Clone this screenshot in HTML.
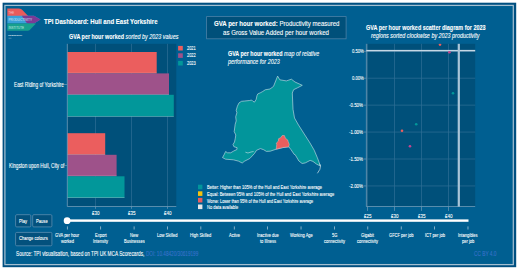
<!DOCTYPE html>
<html><head><meta charset="utf-8"><style>
html,body{margin:0;padding:0;background:#fff;width:520px;height:275px;overflow:hidden;position:relative}
.r{position:absolute}
.t{position:absolute;white-space:nowrap;font-family:"Liberation Sans",sans-serif;line-height:1;color:#fff;transform-origin:0 0;-webkit-text-stroke:0.1px currentColor}
svg{position:absolute;left:0;top:0}
</style></head><body>
<svg width="520" height="275" viewBox="0 0 520 275"><rect x="2.6" y="2.7" width="513.6" height="264.5" fill="#004f80"/>
<rect x="4.9" y="5.4" width="508.4" height="259.2" fill="#005f91" stroke="#a3bfd1" stroke-width="1.25"/>
<path d="M7.3 8.5 H18.6 C21.0 8.5 22.2 9.6 23.8 11.6 L28.4 16.2 H7.3 Z" fill="#ea5b5b"/>
<path d="M7.3 15.8 H34 L40.6 19.6 L34 23.6 H7.3 Z" fill="#3aa0d8"/>
<path d="M21.8 15.8 H34 L40.6 19.6 L34 23.6 H28.4 C27.2 23.6 26.4 22.8 25.6 21.6 Z" fill="#7b3a96"/>
<path d="M7.3 23.6 H36 L30.2 29.4 C29.2 30.4 28.4 30.8 27.0 30.8 H7.3 Z" fill="#17a08e"/>
<text x="8.6" y="13.6" font-size="4" fill="#f4c6c6" font-family="Liberation Sans" textLength="5.6" lengthAdjust="spacingAndGlyphs">THE</text>
<text x="8.5" y="21.3" font-size="3.8" fill="#d6e9f6" font-family="Liberation Sans" textLength="23.5" lengthAdjust="spacingAndGlyphs">PRODUCTIVITY</text>
<text x="8.5" y="28.8" font-size="3.8" fill="#c8ece4" font-family="Liberation Sans" textLength="15.5" lengthAdjust="spacingAndGlyphs">INSTITUTE</text>
<text x="8.3" y="35.8" font-size="1.9" fill="#ffffff" font-weight="bold" font-family="Liberation Sans" textLength="14" lengthAdjust="spacingAndGlyphs">PRODUCTIVITY</text>
<rect x="8.5" y="37.8" width="3" height="0.7" fill="#9fbcd2" opacity="0.6"/>
<rect x="206.60" y="16.60" width="139.50" height="22.20" fill="#00507a" stroke="#4a80a6" stroke-width="0.8"/>
<rect x="67.25" y="43.80" width="109.05" height="162.70" fill="#00507a"/>
<rect x="95.25" y="43.80" width="0.70" height="162.70" fill="#2f6f95"/>
<rect x="131.25" y="43.80" width="0.70" height="162.70" fill="#2f6f95"/>
<rect x="167.25" y="43.80" width="0.70" height="162.70" fill="#2f6f95"/>
<rect x="67.25" y="52.00" width="89.45" height="21.40" fill="#eb5e5e"/>
<rect x="67.25" y="72.80" width="89.45" height="0.60" fill="#e6dce6" opacity="0.5"/>
<rect x="67.25" y="73.40" width="101.75" height="21.40" fill="#9e528a"/>
<rect x="67.25" y="94.20" width="101.75" height="0.60" fill="#e6dce6" opacity="0.5"/>
<rect x="67.25" y="94.80" width="106.55" height="21.80" fill="#02979a"/>
<rect x="67.25" y="116.00" width="106.55" height="0.60" fill="#e6dce6" opacity="0.5"/>
<rect x="67.25" y="133.20" width="37.95" height="21.60" fill="#eb5e5e"/>
<rect x="67.25" y="154.20" width="37.95" height="0.60" fill="#e6dce6" opacity="0.5"/>
<rect x="67.25" y="154.80" width="49.35" height="21.50" fill="#9e528a"/>
<rect x="67.25" y="175.70" width="49.35" height="0.60" fill="#e6dce6" opacity="0.5"/>
<rect x="67.25" y="176.30" width="57.25" height="21.60" fill="#02979a"/>
<rect x="67.25" y="197.30" width="57.25" height="0.60" fill="#e6dce6" opacity="0.5"/>
<rect x="66.85" y="43.80" width="0.80" height="162.70" fill="#6f9bb8"/>
<rect x="67.25" y="206.10" width="109.05" height="0.80" fill="#6f9bb8"/>
<rect x="95.25" y="206.50" width="0.70" height="2.30" fill="#6f9bb8"/>
<rect x="131.25" y="206.50" width="0.70" height="2.30" fill="#6f9bb8"/>
<rect x="167.25" y="206.50" width="0.70" height="2.30" fill="#6f9bb8"/>
<rect x="64.20" y="84.00" width="3.00" height="0.70" fill="#6f9bb8"/>
<rect x="64.20" y="165.30" width="3.00" height="0.70" fill="#6f9bb8"/>
<rect x="178.10" y="45.90" width="4.70" height="4.60" fill="#eb5e5e"/>
<rect x="178.10" y="53.30" width="4.70" height="4.60" fill="#9e528a"/>
<rect x="178.10" y="60.90" width="4.70" height="4.60" fill="#02979a"/>
<rect x="366.30" y="43.80" width="108.90" height="162.80" fill="#00507a"/>
<rect x="366.30" y="50.85" width="108.90" height="0.70" fill="#2f6f95"/>
<rect x="363.60" y="50.85" width="2.70" height="0.70" fill="#6f9bb8"/>
<rect x="366.30" y="77.80" width="108.90" height="0.70" fill="#2f6f95"/>
<rect x="363.60" y="77.80" width="2.70" height="0.70" fill="#6f9bb8"/>
<rect x="366.30" y="104.75" width="108.90" height="0.70" fill="#2f6f95"/>
<rect x="363.60" y="104.75" width="2.70" height="0.70" fill="#6f9bb8"/>
<rect x="366.30" y="131.70" width="108.90" height="0.70" fill="#2f6f95"/>
<rect x="363.60" y="131.70" width="2.70" height="0.70" fill="#6f9bb8"/>
<rect x="366.30" y="158.65" width="108.90" height="0.70" fill="#2f6f95"/>
<rect x="363.60" y="158.65" width="2.70" height="0.70" fill="#6f9bb8"/>
<rect x="366.30" y="185.60" width="108.90" height="0.70" fill="#2f6f95"/>
<rect x="363.60" y="185.60" width="2.70" height="0.70" fill="#6f9bb8"/>
<rect x="367.15" y="43.80" width="0.70" height="162.80" fill="#2f6f95"/>
<rect x="367.15" y="206.60" width="0.70" height="4.30" fill="#6f9bb8"/>
<rect x="394.10" y="43.80" width="0.70" height="162.80" fill="#2f6f95"/>
<rect x="394.10" y="206.60" width="0.70" height="4.30" fill="#6f9bb8"/>
<rect x="421.05" y="43.80" width="0.70" height="162.80" fill="#2f6f95"/>
<rect x="421.05" y="206.60" width="0.70" height="4.30" fill="#6f9bb8"/>
<rect x="448.00" y="43.80" width="0.70" height="162.80" fill="#2f6f95"/>
<rect x="448.00" y="206.60" width="0.70" height="4.30" fill="#6f9bb8"/>
<rect x="365.90" y="43.80" width="0.80" height="162.80" fill="#6f9bb8"/>
<rect x="366.30" y="206.20" width="108.90" height="0.80" fill="#6f9bb8"/>
<rect x="366.30" y="49.90" width="108.90" height="1.50" fill="#c5d8e5"/>
<rect x="457.70" y="43.80" width="2.20" height="162.80" fill="#a9c5d7"/>
<clipPath id="sc"><rect x="366.3" y="43.8" width="108.89999999999998" height="162.8"/></clipPath>
<circle cx="440" cy="44.6" r="1.3" fill="#eb5e5e" clip-path="url(#sc)"/>
<circle cx="449.4" cy="52.2" r="1.3" fill="#c2458f" clip-path="url(#sc)"/>
<circle cx="453" cy="93.3" r="1.3" fill="#02979a" clip-path="url(#sc)"/>
<circle cx="416.2" cy="124.3" r="1.3" fill="#02979a" clip-path="url(#sc)"/>
<circle cx="402" cy="130.7" r="1.3" fill="#eb5e5e" clip-path="url(#sc)"/>
<circle cx="410" cy="146.2" r="1.3" fill="#c2458f" clip-path="url(#sc)"/>
<path d="M277.6 76.1 L279.8 79.8 L286.4 80.9 L291.4 79.2 L295.0 82.0 L302.3 85.3 L297.3 87.9 L293.6 89.7 L292.3 93.0 L293.0 109.3 L294.5 118.0 L298.5 125.0 L310.0 143.0 L314.2 150.2 L317.4 157.8 L319.5 163.5 L320.5 166.1 L316.7 164.2 L312.9 161.4 L310.1 160.4 L305.3 162.9 L302.1 163.5 L298.9 161.0 L295.1 154.6 L294.2 154.4 L290.9 149.5 L288.8 146.8 L282.8 147.6 L276.2 149.2 L270.2 151.2 L266.4 151.4 L263.6 149.7 L260.4 148.6 L256.5 150.3 L254.4 153.6 L249.8 158.5 L244.7 161.1 L242.2 163.0 L238.4 161.1 L233.3 159.8 L225.6 159.2 L222.5 157.6 L224.4 154.1 L225.6 151.5 L227.5 152.8 L230.7 152.8 L233.9 150.9 L236.8 149.6 L237.1 147.7 L233.9 146.7 L233.0 144.5 L234.5 142.0 L235.2 138.8 L235.8 135.0 L234.2 131.6 L235.2 124.2 L236.2 120.9 L235.7 116.8 L236.9 112.7 L236.2 110.3 L237.4 106.2 L239.0 102.9 L241.5 101.3 L244.7 101.0 L249.6 100.5 L251.6 100.0 L252.9 101.3 L254.5 102.1 L256.2 99.3 L257.0 95.5 L257.8 93.9 L260.3 92.8 L262.7 91.5 L265.2 89.8 L270.0 89.0 L273.5 86.4 Z" fill="#02959b" stroke="#cfe3ea" stroke-width="0.6" stroke-linejoin="round"/>
<path d="M276.2 149.2 L276.7 144.3 L276.2 143.2 L278.4 141.0 L278.4 138.8 L280.6 137.7 L282.2 135.5 L284.4 135.5 L285.5 138.3 L287.7 139.9 L288.2 141.5 L289.3 144.3 L288.8 146.8 L282.8 147.6 Z" fill="#eb5e5e" stroke="#f3c9c9" stroke-width="0.4"/>
<path d="M319.5 163.5 L320.5 166.1 L319.9 169.3 L317.4 173.3" fill="none" stroke="#cfe3ea" stroke-width="0.7"/>
<path d="M245.4 152.2 L248 153 L251 152 L253.6 151.5" fill="none" stroke="#cfe3ea" stroke-width="0.6"/>
<rect x="198.00" y="184.70" width="4.40" height="4.60" fill="#02959b"/>
<rect x="198.00" y="191.30" width="4.40" height="4.60" fill="#f4c20d"/>
<rect x="198.00" y="197.90" width="4.40" height="4.60" fill="#eb5e5e"/>
<rect x="198.00" y="204.50" width="4.40" height="4.60" fill="#e8e8e8"/>
<rect x="67.10" y="219.40" width="401.40" height="2.40" fill="#ffffff"/>
<circle cx="67.1" cy="220.65" r="3.4" fill="#ffffff"/>
<rect x="66.95" y="226.40" width="0.70" height="3.10" fill="#b9d0de"/>
<rect x="100.34" y="226.40" width="0.70" height="3.10" fill="#b9d0de"/>
<rect x="133.73" y="226.40" width="0.70" height="3.10" fill="#b9d0de"/>
<rect x="167.12" y="226.40" width="0.70" height="3.10" fill="#b9d0de"/>
<rect x="200.51" y="226.40" width="0.70" height="3.10" fill="#b9d0de"/>
<rect x="233.90" y="226.40" width="0.70" height="3.10" fill="#b9d0de"/>
<rect x="267.29" y="226.40" width="0.70" height="3.10" fill="#b9d0de"/>
<rect x="300.68" y="226.40" width="0.70" height="3.10" fill="#b9d0de"/>
<rect x="334.07" y="226.40" width="0.70" height="3.10" fill="#b9d0de"/>
<rect x="367.46" y="226.40" width="0.70" height="3.10" fill="#b9d0de"/>
<rect x="400.85" y="226.40" width="0.70" height="3.10" fill="#b9d0de"/>
<rect x="434.24" y="226.40" width="0.70" height="3.10" fill="#b9d0de"/>
<rect x="467.63" y="226.40" width="0.70" height="3.10" fill="#b9d0de"/>
<rect x="15.60" y="214.70" width="15.20" height="12.20" fill="#03517d" stroke="#5a8db0" stroke-width="0.8" rx="1.1"/>
<rect x="32.70" y="214.70" width="19.20" height="12.20" fill="#03517d" stroke="#5a8db0" stroke-width="0.8" rx="1.1"/>
<rect x="15.60" y="232.40" width="36.30" height="13.40" fill="#03517d" stroke="#5a8db0" stroke-width="0.8" rx="1.1"/></svg>
<div class="t" style="left:44.20px;top:18.11px;font-size:7.31px;transform:scaleX(0.8273);"><b>TPI Dashboard: Hull and East Yorkshire</b></div>
<div class="t" style="left:213.50px;top:20.22px;font-size:7.42px;transform:scaleX(0.8196);"><b>GVA per hour worked:</b> Productivity measured</div>
<div class="t" style="left:223.00px;top:29.22px;font-size:7.42px;transform:scaleX(0.8234);">as Gross Value Added per hour worked</div>
<div class="t" style="left:68.70px;top:34.15px;font-size:6.68px;transform:scaleX(0.8100);"><b>GVA per hour worked</b> <i>sorted by 2023 values</i></div>
<div class="t" style="left:187.30px;top:45.88px;font-size:5.94px;transform:scaleX(0.6597);">2021</div>
<div class="t" style="left:187.30px;top:53.08px;font-size:5.94px;transform:scaleX(0.6597);">2022</div>
<div class="t" style="left:187.30px;top:60.58px;font-size:5.94px;transform:scaleX(0.6597);">2023</div>
<div class="t" style="left:14.20px;top:81.52px;font-size:6.36px;transform:scaleX(0.7404);">East Riding of Yorkshire</div>
<div class="t" style="left:8.80px;top:162.92px;font-size:6.36px;transform:scaleX(0.7391);">Kingston upon Hull, City of</div>
<div class="t" style="left:91.80px;top:210.49px;font-size:6.04px;transform:scaleX(0.7541);">£30</div>
<div class="t" style="left:127.80px;top:210.49px;font-size:6.04px;transform:scaleX(0.7541);">£35</div>
<div class="t" style="left:163.80px;top:210.49px;font-size:6.04px;transform:scaleX(0.7541);">£40</div>
<div class="t" style="left:228.00px;top:50.55px;font-size:6.68px;transform:scaleX(0.8039);"><b>GVA per hour worked</b> <i>map of relative</i></div>
<div class="t" style="left:228.00px;top:58.95px;font-size:6.68px;transform:scaleX(0.8106);"><i>performance for 2023</i></div>
<div class="t" style="left:206.80px;top:185.25px;font-size:5.72px;transform:scaleX(0.7051);">Better: Higher than 105% of the Hull and East Yorkshire average</div>
<div class="t" style="left:206.80px;top:191.88px;font-size:5.72px;transform:scaleX(0.7094);">Equal: Between 95% and 105% of the Hull and East Yorkshire average</div>
<div class="t" style="left:206.80px;top:198.51px;font-size:5.72px;transform:scaleX(0.6646);">Worse: Lower than 95% of the Hull and East Yorkshire average</div>
<div class="t" style="left:206.80px;top:205.14px;font-size:5.72px;transform:scaleX(0.7058);">No data available</div>
<div class="t" style="left:365.80px;top:24.65px;font-size:6.68px;transform:scaleX(0.8137);"><b>GVA per hour worked scatter diagram for 2023</b></div>
<div class="t" style="left:370.80px;top:32.95px;font-size:6.68px;transform:scaleX(0.8101);"><i>regions sorted clockwise by 2023 productivity</i></div>
<div class="t" style="left:351.50px;top:48.76px;font-size:5.83px;transform:scaleX(0.7138);">0.50%</div>
<div class="t" style="left:351.50px;top:75.71px;font-size:5.83px;transform:scaleX(0.7138);">0.00%</div>
<div class="t" style="left:349.30px;top:102.66px;font-size:5.83px;transform:scaleX(0.7580);">-0.50%</div>
<div class="t" style="left:349.30px;top:129.61px;font-size:5.83px;transform:scaleX(0.7580);">-1.00%</div>
<div class="t" style="left:349.30px;top:156.56px;font-size:5.83px;transform:scaleX(0.7580);">-1.50%</div>
<div class="t" style="left:349.30px;top:183.51px;font-size:5.83px;transform:scaleX(0.7580);">-2.00%</div>
<div class="t" style="left:363.80px;top:212.99px;font-size:6.04px;transform:scaleX(0.7541);">£25</div>
<div class="t" style="left:390.75px;top:212.99px;font-size:6.04px;transform:scaleX(0.7541);">£30</div>
<div class="t" style="left:417.70px;top:212.99px;font-size:6.04px;transform:scaleX(0.7541);">£35</div>
<div class="t" style="left:444.65px;top:212.99px;font-size:6.04px;transform:scaleX(0.7541);">£40</div>
<div class="t" style="left:19.20px;top:218.63px;font-size:5.51px;transform:scaleX(0.7474);">Play</div>
<div class="t" style="left:36.45px;top:218.63px;font-size:5.51px;transform:scaleX(0.7495);">Pause</div>
<div class="t" style="left:19.35px;top:236.43px;font-size:5.51px;transform:scaleX(0.7448);">Change colours</div>
<div class="t" style="left:55.21px;top:232.74px;font-size:5.62px;transform:scaleX(0.7200);">GVA per hour</div>
<div class="t" style="left:60.79px;top:238.64px;font-size:5.62px;transform:scaleX(0.7200);">worked</div>
<div class="t" style="left:94.85px;top:232.74px;font-size:5.62px;transform:scaleX(0.7200);">Export</div>
<div class="t" style="left:93.17px;top:238.64px;font-size:5.62px;transform:scaleX(0.7200);">Intensity</div>
<div class="t" style="left:130.04px;top:232.74px;font-size:5.62px;transform:scaleX(0.7200);">New</div>
<div class="t" style="left:123.75px;top:238.64px;font-size:5.62px;transform:scaleX(0.7200);">Businesses</div>
<div class="t" style="left:157.25px;top:232.74px;font-size:5.62px;transform:scaleX(0.7200);">Low Skilled</div>
<div class="t" style="left:190.20px;top:232.74px;font-size:5.62px;transform:scaleX(0.7200);">High Skilled</div>
<div class="t" style="left:228.75px;top:232.74px;font-size:5.62px;transform:scaleX(0.7200);">Active</div>
<div class="t" style="left:256.75px;top:232.74px;font-size:5.62px;transform:scaleX(0.7200);">Inactive due</div>
<div class="t" style="left:259.67px;top:238.64px;font-size:5.62px;transform:scaleX(0.7200);">to Illness</div>
<div class="t" style="left:289.62px;top:232.74px;font-size:5.62px;transform:scaleX(0.7200);">Working Age</div>
<div class="t" style="left:331.73px;top:232.74px;font-size:5.62px;transform:scaleX(0.7200);">5G</div>
<div class="t" style="left:323.87px;top:238.64px;font-size:5.62px;transform:scaleX(0.7200);">connectivity</div>
<div class="t" style="left:361.41px;top:232.74px;font-size:5.62px;transform:scaleX(0.7200);">Gigabit</div>
<div class="t" style="left:357.26px;top:238.64px;font-size:5.62px;transform:scaleX(0.7200);">connectivity</div>
<div class="t" style="left:388.97px;top:232.74px;font-size:5.62px;transform:scaleX(0.7200);">GFCF per job</div>
<div class="t" style="left:424.63px;top:232.74px;font-size:5.62px;transform:scaleX(0.7200);">ICT per job</div>
<div class="t" style="left:458.21px;top:232.74px;font-size:5.62px;transform:scaleX(0.7200);">Intangibles</div>
<div class="t" style="left:461.80px;top:238.64px;font-size:5.62px;transform:scaleX(0.7200);">per job</div>
<div class="t" style="left:15.60px;top:250.84px;font-size:6.57px;transform:scaleX(0.7188);">Source: TPI visualisation, based on TPI UK MCA Scorecards,</div>
<div class="t" style="left:146.20px;top:250.84px;font-size:6.57px;transform:scaleX(0.7095);"><span style="color:#3a72cc">DOI: 10.48420/30619199</span></div>
<div class="t" style="left:473.80px;top:251.14px;font-size:6.57px;transform:scaleX(0.7284);"><span style="color:#3a72cc">CC BY 4.0</span></div>
</body></html>
